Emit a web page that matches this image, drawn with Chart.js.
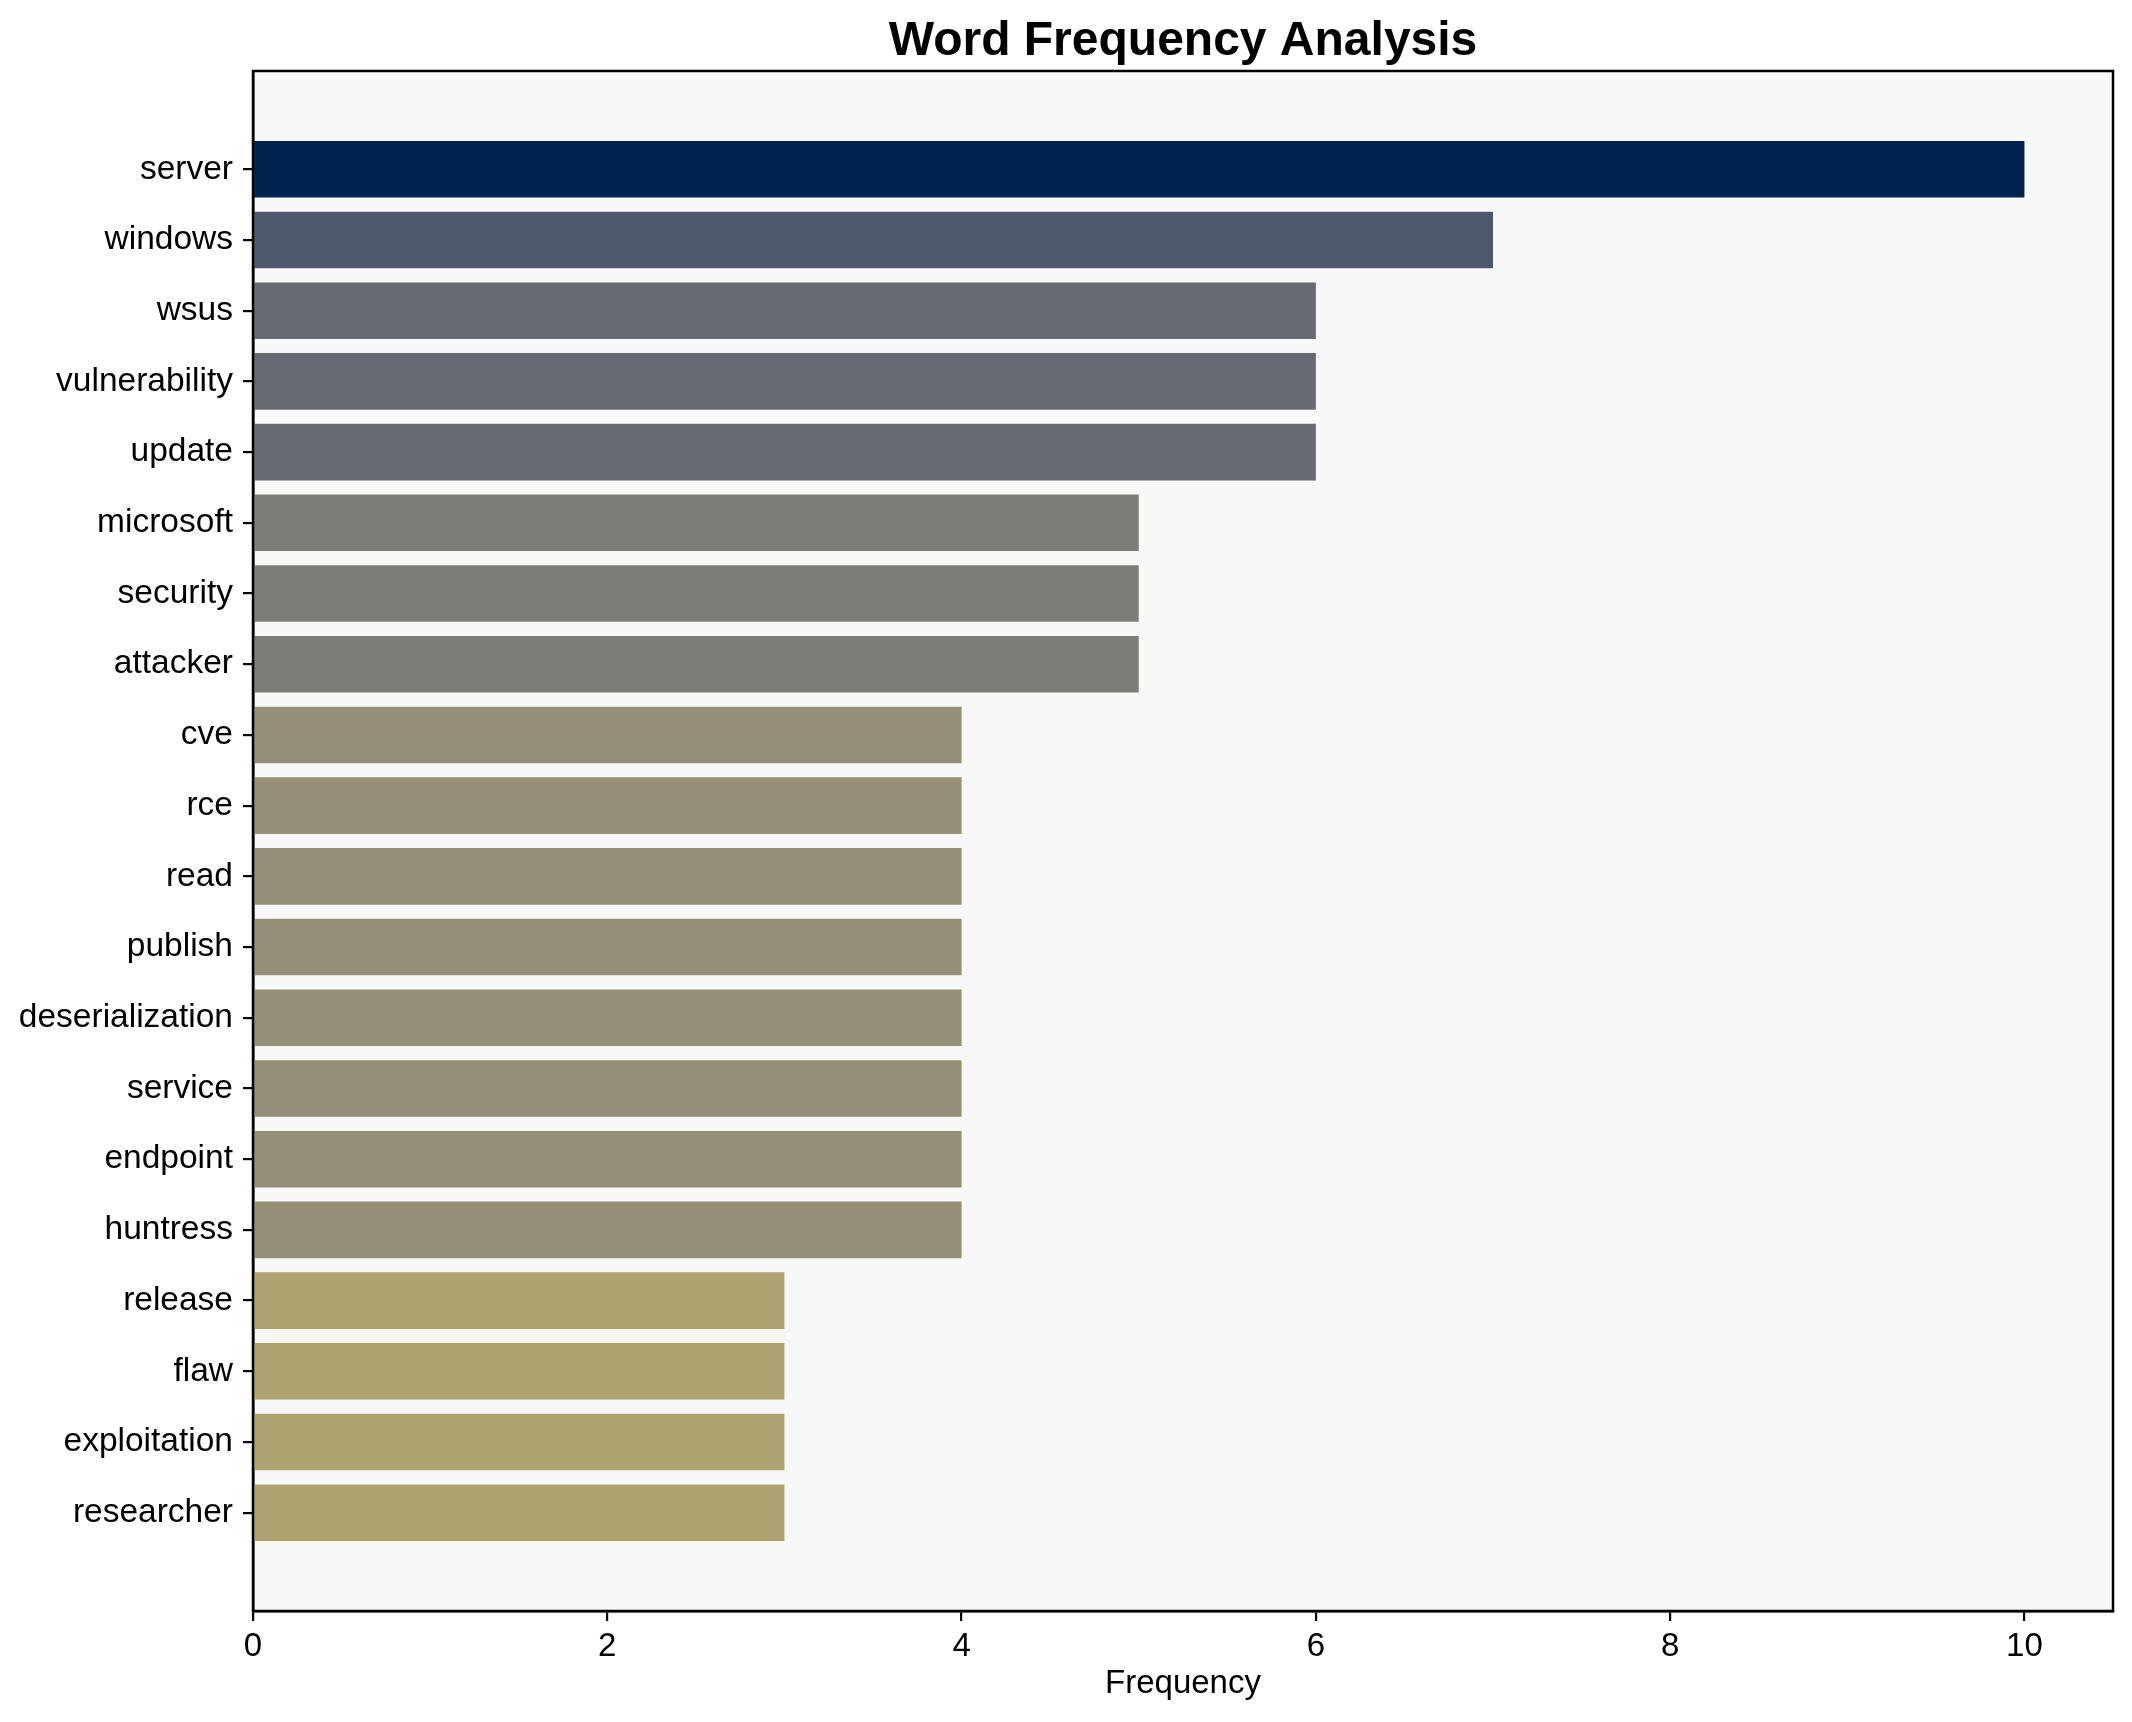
<!DOCTYPE html>
<html>
<head>
<meta charset="utf-8">
<script src="https://cdn.jsdelivr.net/npm/chart.js@4/dist/chart.umd.min.js"></script>
<style>
  html, body { margin: 0; padding: 0; background: #ffffff; }
  canvas { display: block; }
</style>
</head>
<body>
<canvas id="chart" width="2132" height="1722"></canvas>
<script>
const words = ["server", "windows", "wsus", "vulnerability", "update", "microsoft", "security",
  "attacker", "cve", "rce", "read", "publish", "deserialization", "service", "endpoint",
  "huntress", "release", "flaw", "exploitation", "researcher"];
const counts = [10, 7, 6, 6, 6, 5, 5, 5, 4, 4, 4, 4, 4, 4, 4, 4, 3, 3, 3, 3];
const xTicks = [0, 2, 4, 6, 8, 10];
const chartTitle = "Word Frequency Analysis";

// cividis-like colours keyed by count
const shade = { 10: "#00224e", 7: "#4d586c", 6: "#676973", 5: "#7e7c77", 4: "#958f76", 3: "#aea36f" };
const FONT = "'Liberation Sans', Arial, sans-serif";

const plotFrame = {
  id: "plotFrame",
  beforeDraw(chart) {
    const { ctx, chartArea: a } = chart;
    ctx.save();
    ctx.fillStyle = "#f8f8f8";
    ctx.fillRect(a.left, a.top, a.right - a.left, a.bottom - a.top);
    ctx.restore();
  },
  afterDraw(chart) {
    const { ctx, chartArea: a } = chart;
    ctx.save();
    ctx.strokeStyle = "#000000";
    ctx.lineWidth = 2.5;
    ctx.strokeRect(a.left, a.top, a.right - a.left, a.bottom - a.top);
    // title centred over the plot area, like matplotlib
    ctx.fillStyle = "#000000";
    ctx.font = "bold 48px " + FONT;
    ctx.textAlign = "center";
    ctx.textBaseline = "alphabetic";
    ctx.fillText(chartTitle, (a.left + a.right) / 2, 55);
    ctx.restore();
  }
};

new Chart(document.getElementById("chart"), {
  type: "bar",
  data: {
    datasets: [{
      data: counts.map((v, i) => ({ x: v, y: i })),
      backgroundColor: counts.map(v => shade[v]),
      borderWidth: 0,
      categoryPercentage: 0.8,
      barPercentage: 1.0
    }]
  },
  plugins: [plotFrame],
  options: {
    responsive: false,
    devicePixelRatio: 1,
    animation: false,
    indexAxis: "y",
    layout: { padding: { left: 0, right: 19, top: 71, bottom: 0 } },
    plugins: {
      legend: { display: false },
      tooltip: { enabled: false },
      title: { display: false }
    },
    scales: {
      x: {
        type: "linear",
        min: 0, max: 10.5,
        afterBuildTicks: s => { s.ticks = xTicks.map(v => ({ value: v })); },
        afterFit: s => { s.height = 111; },
        grid: { display: true, drawOnChartArea: false, drawTicks: true, tickLength: 10, color: "#000000", lineWidth: 2.2 },
        border: { display: true, color: "#000000", width: 2.5 },
        ticks: { color: "#000000", padding: 6, font: { family: FONT, size: 33 } },
        title: {
          display: true, text: "Frequency", color: "#000000",
          font: { family: FONT, size: 33, lineHeight: 1.2 },
          padding: { top: 0, bottom: 18 }
        }
      },
      y: {
        type: "linear",
        reverse: true,
        offset: false,
        min: -1.39, max: 20.39,
        afterBuildTicks: s => { s.ticks = words.map((_, i) => ({ value: i })); },
        afterFit: s => { s.width = 253; },
        grid: { display: true, offset: false, drawOnChartArea: false, drawTicks: true, tickLength: 10, color: "#000000", lineWidth: 2.2 },
        border: { display: true, color: "#000000", width: 2.5 },
        ticks: {
          color: "#000000", padding: 10, autoSkip: false,
          font: { family: FONT, size: 33.5 },
          callback: v => words[v]
        }
      }
    }
  }
});
</script>
</body>
</html>
